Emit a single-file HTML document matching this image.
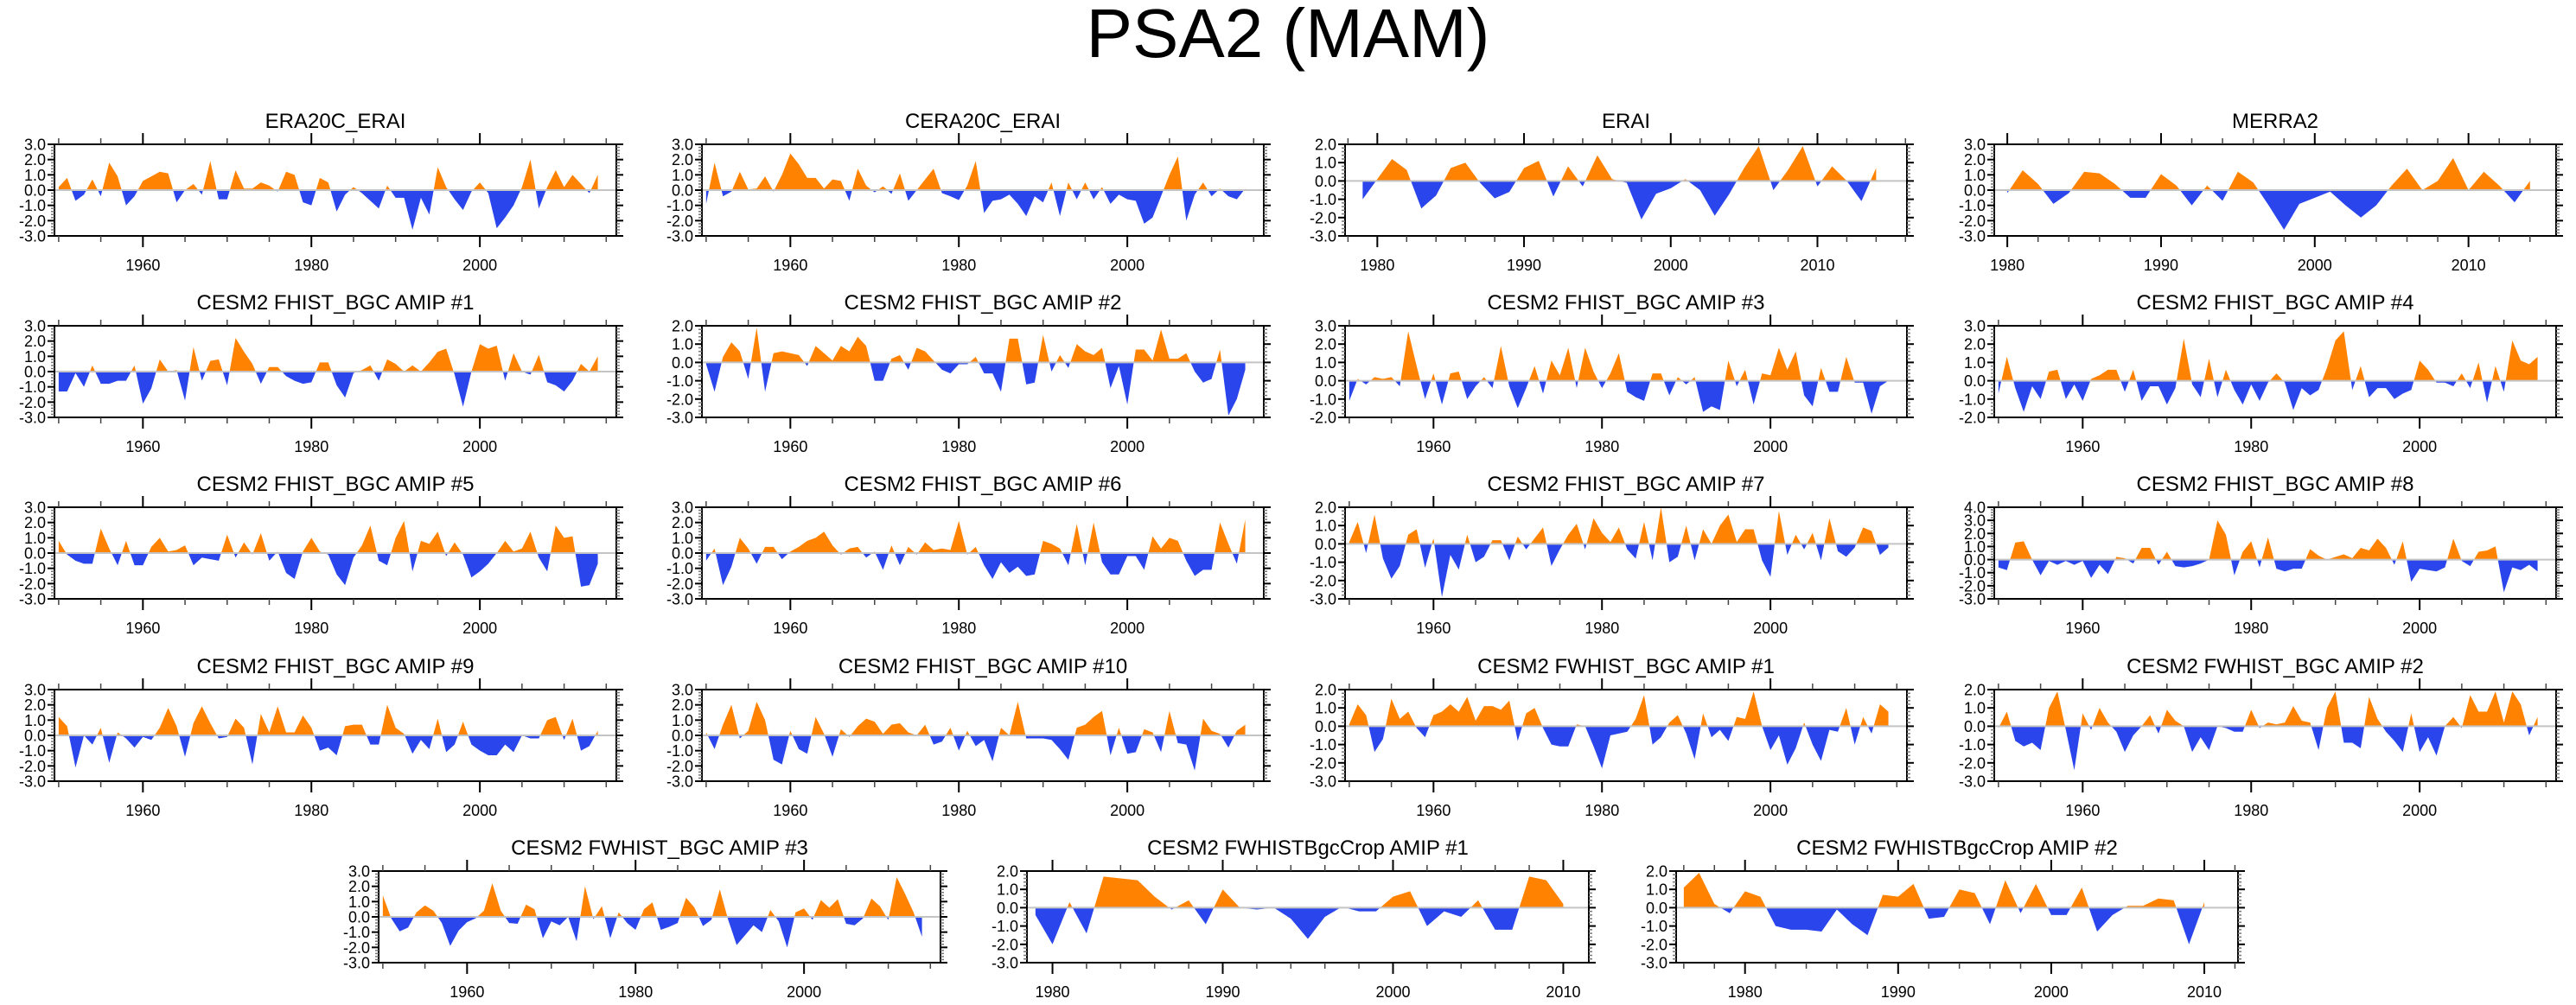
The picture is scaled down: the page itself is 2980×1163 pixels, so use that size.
<!DOCTYPE html>
<html><head><meta charset="utf-8"><title>PSA2 (MAM)</title>
<style>
html,body{margin:0;padding:0;background:#fff;}
svg{display:block;font-family:"Liberation Sans",Arial,sans-serif;}
</style></head>
<body>
<svg id="chart" xmlns="http://www.w3.org/2000/svg" width="2980" height="1163" viewBox="0 0 2980 1163">
<rect x="0" y="0" width="2980" height="1163" fill="#ffffff"/>
<text x="1490" y="66" font-size="80" text-anchor="middle" fill="#000">PSA2 (MAM)</text>
</svg>
<script>
// ---- data ----
const era20cStart = 1950;
const era20cValues = [0.2,0.8,-0.7,-0.3,0.7,-0.4,1.8,0.9,-1.0,-0.4,0.6,0.9,1.2,1.1,-0.8,0.0,0.4,-0.3,1.9,-0.6,-0.6,1.3,0.1,0.1,0.5,0.3,-0.1,1.2,1.0,-0.8,-1.0,0.8,0.5,-1.4,-0.3,0.2,-0.2,-0.7,-1.2,0.3,-0.5,-0.5,-2.6,-0.5,-1.6,1.5,0.2,-0.6,-1.3,-0.1,0.5,-0.2,-2.5,-1.8,-1.0,0.2,2.0,-1.2,0.2,1.3,0.2,1.0,0.4,-0.2,1.0];
const cera20cStart = 1950;
const cera20cValues = [-0.9,1.8,-0.4,-0.1,1.2,0.05,0.1,0.9,-0.1,1.0,2.4,1.7,0.8,0.8,0.1,0.7,0.6,-0.7,1.4,0.3,-0.15,0.25,-0.25,1.1,-0.7,0.0,0.7,1.4,-0.2,-0.4,-0.65,0.3,1.9,-1.5,-0.7,-0.6,-0.3,-0.9,-1.7,-0.4,-0.8,0.5,-1.7,0.5,-0.6,0.5,-0.6,0.2,-0.9,-0.3,-0.6,-0.7,-2.2,-1.8,-0.4,1.0,2.2,-2.0,-0.3,0.5,-0.4,0.1,-0.4,-0.6,0.1];
const eraiStart = 1979;
const eraiValues = [-1.0,0.1,1.2,0.6,-1.5,-0.8,0.7,1.0,-0.1,-0.95,-0.6,0.7,1.1,-0.85,0.8,-0.3,1.4,0.1,-0.1,-2.1,-0.7,-0.4,0.1,-0.5,-1.9,-0.7,0.7,1.9,-0.5,0.6,1.9,-0.3,0.8,0.0,-1.1,0.7];
const merra2Start = 1980;
const merra2Values = [-0.2,1.3,0.4,-0.9,-0.2,1.2,1.1,0.4,-0.5,-0.5,1.05,0.3,-1.0,0.3,-0.7,1.2,0.5,-1.0,-2.6,-0.9,-0.5,-0.1,-1.0,-1.8,-1.0,0.3,1.4,0.0,0.6,2.1,0.0,1.2,0.3,-0.8,0.6];
const amip1Values = [-1.3,-1.3,-0.1,-1.0,0.4,-0.8,-0.8,-0.6,-0.6,0.4,-2.1,-1.1,0.8,0.0,0.1,-1.9,1.6,-0.6,0.7,0.8,-0.9,2.2,1.3,0.5,-0.8,0.3,0.3,-0.3,-0.6,-0.8,-0.7,0.6,0.6,-0.9,-1.7,-0.1,0.1,0.4,-0.6,0.8,0.5,0.0,0.4,0.0,0.6,1.3,1.5,-0.2,-2.3,0.0,1.8,1.5,1.7,-0.6,1.2,0.0,-0.2,1.1,-0.7,-0.9,-1.3,-0.6,0.5,0.0,1.0];
const amip2Values = [-0.1,-1.6,0.3,1.1,0.6,-0.9,1.9,-1.6,0.5,0.6,0.5,0.4,-0.2,0.9,0.5,0.1,0.9,0.6,1.4,0.9,-1.0,-1.0,0.2,0.4,-0.4,0.8,0.6,0.1,-0.4,-0.6,-0.1,-0.1,0.3,-0.6,-0.6,-1.6,1.3,1.3,-1.2,-1.1,1.5,-0.5,0.4,-0.3,1.0,0.6,0.4,0.8,-1.4,-0.2,-2.3,0.7,0.7,0.1,1.8,0.2,0.2,0.5,-0.5,-1.1,-0.9,0.7,-2.9,-2.0,-0.4];
const amip3Values = [-1.1,0.1,-0.2,0.2,0.1,0.2,-0.3,2.7,0.8,-1.0,0.4,-1.3,0.4,0.5,-1.0,-0.3,0.2,-0.4,1.9,-0.3,-1.5,-0.4,0.8,-0.7,1.1,0.3,1.8,-0.4,1.8,0.5,-0.4,0.4,1.5,-0.6,-0.9,-1.1,0.4,0.4,-0.8,0.2,-0.2,0.2,-1.7,-1.4,-1.6,1.1,-0.3,0.6,-1.3,0.4,0.3,1.8,0.6,1.6,-0.8,-1.4,0.7,-0.6,-0.6,1.3,-0.1,-0.1,-1.8,-0.3,0.0];
const amip4Values = [-0.7,1.3,-0.4,-1.7,-0.3,-1.0,0.5,0.6,-1.0,-0.2,-1.1,0.1,0.3,0.6,0.6,-0.6,0.6,-1.1,-0.3,-0.3,-1.3,-0.4,2.3,-0.2,-0.9,1.2,-0.9,0.6,-0.5,-1.3,-0.2,-1.1,-0.1,0.4,-0.1,-1.6,-0.4,-0.8,-0.5,0.7,2.2,2.7,-0.5,0.8,-0.9,-0.4,-0.4,-1.0,-0.7,-0.5,1.1,0.6,-0.1,-0.1,-0.3,0.4,-0.4,1.0,-1.2,0.8,-0.6,2.2,1.1,0.9,1.3];
const amip5Values = [0.8,-0.1,-0.5,-0.7,-0.7,1.6,0.3,-0.8,0.8,-0.8,-0.8,0.4,1.0,0.1,0.2,0.5,-0.8,-0.3,-0.4,-0.5,1.2,-0.3,0.7,-0.1,1.3,-0.5,0.1,-1.3,-1.7,0.1,1.0,0.1,-0.1,-1.4,-2.1,-0.3,0.5,1.8,-0.5,-0.8,1.0,2.1,-1.2,0.8,0.6,1.4,-0.2,0.7,-0.1,-1.6,-1.2,-0.7,0.0,0.8,0.1,0.3,1.4,-0.3,-1.2,1.8,1.0,1.1,-2.2,-2.1,-0.7];
const amip6Values = [-0.5,0.3,-2.1,-0.9,1.0,0.3,-0.7,0.4,0.4,-0.4,0.1,0.4,0.8,1.0,1.4,0.5,-0.1,0.3,0.4,-0.3,0.1,-1.1,0.5,-0.8,0.4,-0.1,0.7,0.2,0.3,0.2,2.1,-0.1,0.4,-0.8,-1.7,-0.6,-1.3,-0.9,-1.5,-1.4,0.8,0.6,0.3,-0.8,1.9,-0.8,2.0,-0.6,-1.4,-1.4,-0.2,-0.2,-1.1,1.1,0.3,1.0,0.8,-0.5,-1.5,-1.1,-1.1,2.0,0.6,-0.7,2.2];
const amip7Values = [0.1,1.2,-0.5,1.6,-0.8,-1.9,-1.2,0.5,0.8,-1.3,0.3,-2.9,-0.6,-1.4,0.5,-1.0,-0.7,0.2,0.2,-0.9,0.4,-0.3,0.3,0.9,-1.2,-0.3,0.5,1.1,-0.3,1.4,0.6,0.1,0.9,-0.3,-0.8,1.2,-0.9,2.0,-1.0,-0.7,1.0,-0.9,0.8,0.0,1.0,1.6,0.1,0.8,0.8,-0.9,-1.8,1.8,-0.6,0.5,-0.3,0.6,-0.9,1.4,-0.4,-0.7,-0.2,0.9,0.7,-0.6,-0.2];
const amip8Values = [-0.6,-0.8,1.3,1.4,0.0,-1.2,-0.1,-0.4,-0.1,-0.4,-0.1,-1.4,-0.4,-1.1,0.2,0.1,-0.3,0.9,0.9,-0.4,0.6,-0.5,-0.6,-0.5,-0.3,0.0,3.0,1.9,-1.2,0.6,1.4,-0.6,1.7,-0.7,-0.9,-0.7,-0.7,0.8,0.3,0.0,0.2,0.4,0.1,0.9,0.7,1.6,0.9,-0.4,1.4,-1.7,-0.7,-0.8,-0.9,-0.6,1.6,-0.1,-0.5,0.6,0.7,1.0,-2.5,-0.6,-0.8,-0.4,-0.9];
const amip9Values = [1.2,0.6,-2.1,0.0,-0.6,0.5,-1.8,0.2,-0.2,-0.8,-0.1,-0.3,0.5,1.8,0.6,-1.4,0.8,1.9,0.8,-0.2,-0.1,1.1,0.5,-1.9,1.4,0.2,1.9,0.2,0.2,1.3,0.5,-1.0,-0.8,-1.3,0.6,0.7,0.7,-0.6,-0.6,2.0,0.5,0.1,-1.2,-0.3,-0.9,1.1,-1.1,-0.6,0.9,-0.6,-1.0,-1.3,-1.3,-0.6,-1.1,0.0,-0.2,-0.2,1.0,1.2,-0.3,1.1,-1.0,-0.7,0.3];
const amip10Values = [0.2,-0.9,0.7,2.0,-0.2,0.3,2.2,1.0,-1.6,-1.9,0.3,-0.9,-1.2,1.2,0.1,-1.4,0.4,-0.1,0.6,1.1,0.9,0.1,0.7,0.8,0.2,0.0,0.7,-0.6,-0.4,0.5,-1.0,0.3,-0.7,-0.3,-1.7,0.5,0.0,2.2,-0.2,-0.2,-0.2,-0.3,-0.9,-1.6,0.5,0.7,1.2,1.6,-1.3,0.5,-1.2,-1.1,0.4,0.2,-1.1,1.6,-0.5,-0.6,-2.3,1.1,0.3,0.1,-0.8,0.3,0.7];
const fw1Values = [0.1,1.2,0.6,-1.4,-0.7,1.5,0.4,0.8,-0.1,-0.6,0.6,0.8,1.2,0.8,1.6,0.3,1.1,1.1,0.9,1.4,-0.8,0.7,1.0,-0.1,-1.0,-1.1,-1.1,0.1,0.0,-1.1,-2.3,-0.5,-0.4,-0.3,0.4,1.7,-1.0,-0.6,0.2,0.6,-0.4,-1.8,0.7,-0.6,-0.2,-0.8,0.5,0.4,1.9,0.0,-1.3,-0.5,-2.1,-1.2,0.2,-1.0,-1.9,-0.2,-0.3,1.0,-1.0,0.5,-0.4,1.2,0.8];
const fw2Values = [-0.1,0.8,-0.8,-1.1,-0.9,-1.3,1.0,1.9,-0.2,-2.4,0.7,-0.2,1.0,0.2,-0.3,-1.4,-0.5,0.0,0.6,-0.4,0.9,0.3,0.0,-1.4,-0.6,-1.3,0.0,-0.1,-0.3,-0.3,0.9,-0.1,0.2,0.1,0.2,1.1,0.3,0.2,-1.3,1.0,1.9,-0.9,-0.9,-1.2,1.6,0.4,-0.3,-0.8,-1.4,0.7,-1.4,-0.6,-1.6,0.0,0.5,-0.1,1.7,0.8,0.8,1.9,0.2,1.9,1.2,-0.5,0.5];
const fw3Values = [1.4,-0.1,-0.95,-0.7,0.3,0.75,0.4,-0.4,-1.9,-0.9,-0.35,-0.1,0.4,2.2,0.4,-0.4,-0.45,0.8,0.5,-1.4,-0.3,-0.55,0.0,-1.6,2.0,-0.15,0.7,-1.4,0.3,-0.4,-0.85,0.5,0.95,-0.85,-0.65,-0.4,1.25,0.6,-0.6,-0.2,1.8,-0.2,-1.85,-1.2,-0.55,-1.0,0.45,-0.3,-2.0,0.3,0.55,-0.2,1.1,0.6,1.15,-0.45,-0.55,-0.1,1.2,0.7,-0.2,2.6,1.5,0.3,-1.3];
const crop1Start = 1979;
const crop1Values = [-0.4,-2.0,0.3,-1.4,1.7,1.6,1.5,0.6,-0.1,0.4,-0.9,1.0,0.0,-0.1,0.0,-0.6,-1.7,-0.5,0.05,-0.2,-0.2,0.6,0.9,-1.0,-0.2,-0.5,0.4,-1.2,-1.2,1.7,1.5,0.2];
const crop2Start = 1976;
const crop2Values = [1.1,1.9,0.2,-0.3,0.9,0.6,-1.0,-1.2,-1.2,-1.3,-0.1,-0.9,-1.5,0.7,0.6,1.3,-0.6,-0.5,1.0,0.8,-0.9,1.5,-0.3,1.3,-0.4,-0.4,1.1,-1.3,-0.4,0.1,0.1,0.5,0.4,-2.0,0.3];
const amipStart = 1950;

// ---- layout ----
const W = 650, H = 106;
const ORANGE = "#ff8200", BLUE = "#2a45ec";
const R1950 = [1949.5, 2016.2];
const panels = [
  {name:"era20c-erai", title:"ERA20C_ERAI", start:era20cStart, vals:era20cValues, x:R1950, y:[-3,3], left:63, top:167},
  {name:"cera20c-erai", title:"CERA20C_ERAI", start:cera20cStart, vals:cera20cValues, x:R1950, y:[-3,3], left:812, top:167},
  {name:"erai", title:"ERAI", start:eraiStart, vals:eraiValues, x:[1977.8,2016.1], y:[-3,2], left:1556, top:167},
  {name:"merra2", title:"MERRA2", start:merra2Start, vals:merra2Values, x:[1979.15,2015.7], y:[-3,3], left:2307, top:167},
  {name:"fhist-amip-1", title:"CESM2 FHIST_BGC AMIP #1", start:amipStart, vals:amip1Values, x:R1950, y:[-3,3], left:63, top:377},
  {name:"fhist-amip-2", title:"CESM2 FHIST_BGC AMIP #2", start:amipStart, vals:amip2Values, x:R1950, y:[-3,2], left:812, top:377},
  {name:"fhist-amip-3", title:"CESM2 FHIST_BGC AMIP #3", start:amipStart, vals:amip3Values, x:R1950, y:[-2,3], left:1556, top:377},
  {name:"fhist-amip-4", title:"CESM2 FHIST_BGC AMIP #4", start:amipStart, vals:amip4Values, x:R1950, y:[-2,3], left:2307, top:377},
  {name:"fhist-amip-5", title:"CESM2 FHIST_BGC AMIP #5", start:amipStart, vals:amip5Values, x:R1950, y:[-3,3], left:63, top:587},
  {name:"fhist-amip-6", title:"CESM2 FHIST_BGC AMIP #6", start:amipStart, vals:amip6Values, x:R1950, y:[-3,3], left:812, top:587},
  {name:"fhist-amip-7", title:"CESM2 FHIST_BGC AMIP #7", start:amipStart, vals:amip7Values, x:R1950, y:[-3,2], left:1556, top:587},
  {name:"fhist-amip-8", title:"CESM2 FHIST_BGC AMIP #8", start:amipStart, vals:amip8Values, x:R1950, y:[-3,4], left:2307, top:587},
  {name:"fhist-amip-9", title:"CESM2 FHIST_BGC AMIP #9", start:amipStart, vals:amip9Values, x:R1950, y:[-3,3], left:63, top:798},
  {name:"fhist-amip-10", title:"CESM2 FHIST_BGC AMIP #10", start:amipStart, vals:amip10Values, x:R1950, y:[-3,3], left:812, top:798},
  {name:"fwhist-amip-1", title:"CESM2 FWHIST_BGC AMIP #1", start:amipStart, vals:fw1Values, x:R1950, y:[-3,2], left:1556, top:798},
  {name:"fwhist-amip-2", title:"CESM2 FWHIST_BGC AMIP #2", start:amipStart, vals:fw2Values, x:R1950, y:[-3,2], left:2307, top:798},
  {name:"fwhist-amip-3", title:"CESM2 FWHIST_BGC AMIP #3", start:amipStart, vals:fw3Values, x:R1950, y:[-3,3], left:438, top:1008},
  {name:"fwhistbgccrop-amip-1", title:"CESM2 FWHISTBgcCrop AMIP #1", start:crop1Start, vals:crop1Values, x:[1978.5,2011.5], y:[-3,2], left:1188, top:1008},
  {name:"fwhistbgccrop-amip-2", title:"CESM2 FWHISTBgcCrop AMIP #2", start:crop2Start, vals:crop2Values, x:[1975.5,2012.2], y:[-3,2], left:1939, top:1008}
];

const NS = "http://www.w3.org/2000/svg";
const svg = document.getElementById("chart");
function mk(tag, attrs, parent) {
  const e = document.createElementNS(NS, tag);
  for (const k in attrs) e.setAttribute(k, attrs[k]);
  (parent || svg).appendChild(e);
  return e;
}

panels.forEach(function(p, idx) {
  const g = mk("g", {});
  
  
  const L = p.left, T = p.top, B = T + H, Rr = L + W;
  const sx = function(v){ return L + (v - p.x[0]) / (p.x[1] - p.x[0]) * W; };
  const sy = function(v){ return T + (p.y[1] - v) / (p.y[1] - p.y[0]) * H; };
  const zy = sy(0);

  // title
  const t = mk("text", {x: L + W/2, y: T - 19, "font-size": 24, "text-anchor": "middle", fill: "#000"}, g);
  t.textContent = p.title;
  
  

  // clip paths
  const defs = mk("defs", {}, g);
  const ca = mk("clipPath", {id: "ca" + idx}, defs);
  mk("rect", {x: L, y: T, width: W, height: Math.max(0, zy - T)}, ca);
  const cb = mk("clipPath", {id: "cb" + idx}, defs);
  mk("rect", {x: L, y: zy, width: W, height: Math.max(0, B - zy)}, cb);

  // area polygon
  let d = "M" + sx(p.start).toFixed(2) + "," + zy.toFixed(2);
  p.vals.forEach(function(v, i){ d += " L" + sx(p.start + i).toFixed(2) + "," + sy(v).toFixed(2); });
  d += " L" + sx(p.start + p.vals.length - 1).toFixed(2) + "," + zy.toFixed(2) + " Z";
  const above = mk("path", {d: d, fill: ORANGE, "clip-path": "url(#ca" + idx + ")"}, g);
  
  
  const below = mk("path", {d: d, fill: BLUE, "clip-path": "url(#cb" + idx + ")"}, g);
  
  

  // zero line
  const zl = mk("line", {x1: L, x2: Rr, y1: zy, y2: zy, stroke: "#c4c4c4", "stroke-width": 2}, g);
  
  

  // frame
  const fr = mk("rect", {x: L, y: T, width: W, height: H, fill: "none", stroke: "#000", "stroke-width": 2}, g);
  
  

  // x ticks
  const span = p.x[1] - p.x[0];
  const major = span > 50 ? 20 : 10, minor = span > 50 ? 5 : 2;
  const xa = mk("g", {}, g);
  
  
  for (let yr = Math.ceil(p.x[0] / minor) * minor; yr <= p.x[1]; yr += minor) {
    const isMaj = yr % major === 0;
    const len = isMaj ? 13 : 7;
    const X = sx(yr);
    mk("line", {x1: X, x2: X, y1: T, y2: T - len, stroke: isMaj ? "#000" : "#444", "stroke-width": isMaj ? 2 : 1.5}, xa);
    mk("line", {x1: X, x2: X, y1: B, y2: B + len, stroke: isMaj ? "#000" : "#444", "stroke-width": isMaj ? 2 : 1.5}, xa);
    if (isMaj) {
      const lb = mk("text", {x: X, y: B + 40, "font-size": 18, "text-anchor": "middle", fill: "#000"}, xa);
      lb.textContent = String(yr);
      
      
    }
  }

  // y ticks
  const ya = mk("g", {}, g);
  
  
  const nMinor = Math.round((p.y[1] - p.y[0]) * 5);
  for (let k = 0; k <= nMinor; k++) {
    const v = p.y[0] + k * 0.2;
    const isMaj = k % 5 === 0;
    const Y = sy(v);
    const len = isMaj ? 8 : 4;
    mk("line", {x1: L, x2: L - len, y1: Y, y2: Y, stroke: isMaj ? "#000" : "#777", "stroke-width": isMaj ? 2 : 1.5}, ya);
    mk("line", {x1: Rr, x2: Rr + len, y1: Y, y2: Y, stroke: isMaj ? "#000" : "#777", "stroke-width": isMaj ? 2 : 1.5}, ya);
    if (isMaj) {
      const lb = mk("text", {x: L - 10, y: Y + 6.5, "font-size": 18, "text-anchor": "end", fill: "#000"}, ya);
      lb.textContent = (Math.round(v * 10) / 10).toFixed(1);
      
      
    }
  }
});
</script>
</body></html>
